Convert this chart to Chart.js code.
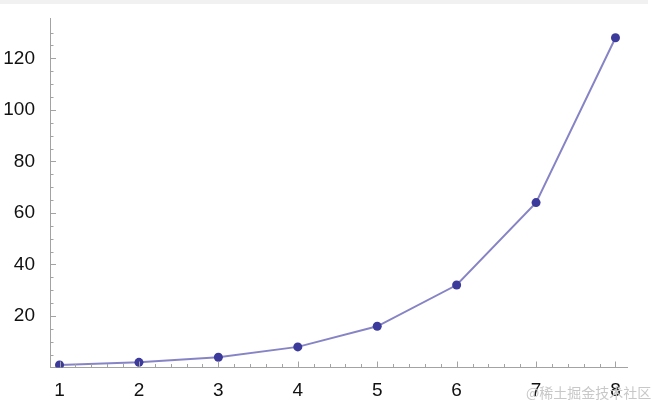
<!DOCTYPE html>
<html>
<head>
<meta charset="utf-8">
<script src="https://cdn.jsdelivr.net/npm/chart.js@4.4.0/dist/chart.umd.min.js"></script>
<style>
  html, body { margin: 0; padding: 0; background: #fff; }
  #wrap { position: relative; width: 652px; height: 404px; }
  #topband { position: absolute; left: 0; top: 0; width: 648px; height: 4px; background: #f1f1f1; }
  #mark { position: absolute; left: 526px; top: 382px; font: 14px "Noto Sans CJK SC", sans-serif; color: #c8c8c8; white-space: nowrap; }
</style>
</head>
<body>
<div id="wrap">
  <canvas id="c1" width="652" height="404"></canvas>
  <div id="topband"></div>
  <div id="mark">@稀土掘金技术社区</div>
</div>
<script>
// 2^(n-1) list plot
var xValues = [1, 2, 3, 4, 5, 6, 7, 8];
var yValues = [1, 2, 4, 8, 16, 32, 64, 128];
var xTicks = [1, 2, 3, 4, 5, 6, 7, 8];
var yTicks = [20, 40, 60, 80, 100, 120];

var points = [];
for (var i = 0; i < xValues.length; i++) {
  points.push({ x: xValues[i], y: yValues[i] });
}

// Mathematica style ticks, drawn inside the plot from the axes
var innerTicks = {
  id: 'innerTicks',
  afterDraw: function(chart) {
    var ctx = chart.ctx;
    var xs = chart.scales.x, ys = chart.scales.y;
    var a = chart.chartArea;
    ctx.save();
    ctx.strokeStyle = '#a3a3a3';
    ctx.lineWidth = 1;
    ctx.beginPath();
    for (var v = 1; v <= 8.001; v += 0.2) {
      var px = Math.round(xs.getPixelForValue(v)) + 0.5;
      var major = Math.abs(v - Math.round(v)) < 0.01;
      ctx.moveTo(px, a.bottom);
      ctx.lineTo(px, a.bottom - (major ? 6 : 3.5));
    }
    for (var w = 5; w <= 130; w += 5) {
      var py = Math.round(ys.getPixelForValue(w)) + 0.5;
      var maj = w % 20 === 0;
      ctx.moveTo(a.left, py);
      ctx.lineTo(a.left + (maj ? 6 : 3.5), py);
    }
    ctx.stroke();
    ctx.restore();
  }
};

var ctx = document.getElementById('c1').getContext('2d');
var chart1 = new Chart(ctx, {
  type: 'line',
  data: {
    datasets: [{
      data: points,
      borderColor: '#8784c6',
      borderWidth: 2,
      pointRadius: 4.5,
      pointBackgroundColor: '#3c3a9a',
      pointBorderColor: '#3c3a9a',
      pointBorderWidth: 0,
      tension: 0,
      fill: false
    }]
  },
  options: {
    responsive: false,
    animation: false,
    layout: { padding: { top: 16, right: 25, left: 0, bottom: 0 } },
    plugins: { legend: { display: false }, tooltip: { enabled: false } },
    scales: {
      x: {
        type: 'linear',
        min: 0.88,
        max: 8.145,
        grid: { display: false },
        border: { display: true, color: '#a3a3a3', width: 1 },
        afterBuildTicks: function(s) { s.ticks = xTicks.map(function(v) { return { value: v }; }); },
        afterFit: function(s) { s.height = 36.5; },
        ticks: { color: '#111', padding: 4, maxRotation: 0, font: { family: 'Liberation Sans', size: 19 } }
      },
      y: {
        min: 0,
        max: 135.5,
        grid: { display: false },
        border: { display: true, color: '#a3a3a3', width: 1 },
        afterBuildTicks: function(s) { s.ticks = yTicks.map(function(v) { return { value: v }; }); },
        afterFit: function(s) { s.width = 50; },
        ticks: { color: '#111', padding: 7, font: { family: 'Liberation Sans', size: 19 } }
      }
    }
  },
  plugins: [innerTicks]
});
</script>
</body>
</html>
